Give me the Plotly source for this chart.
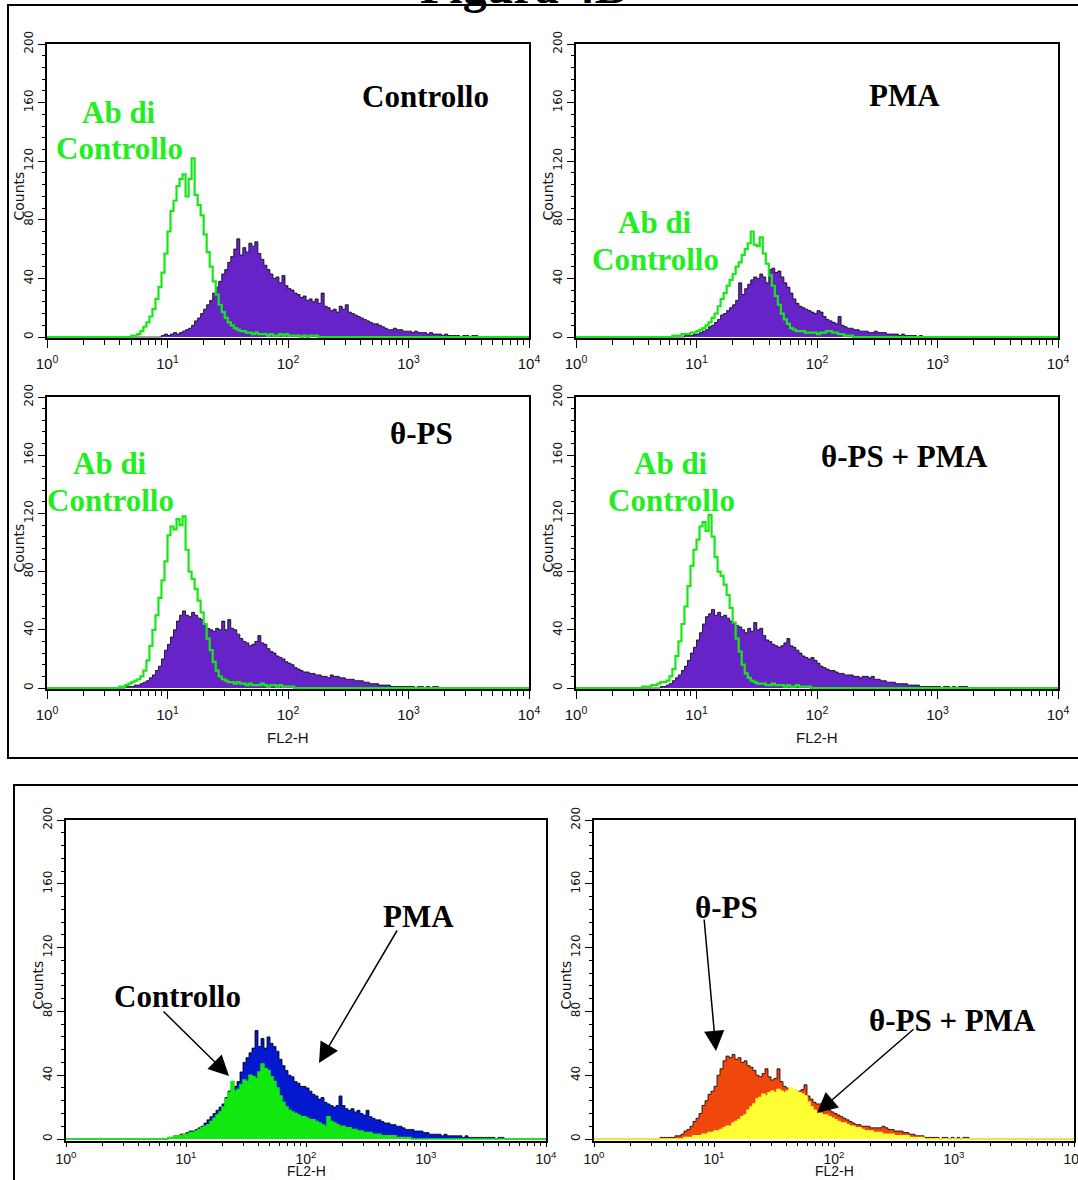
import numpy as np
import plotly.graph_objects as go

W, H = 1078, 1180

# ---------------- data ----------------
# FL2-H channels: log10 spacing of 0.025 decade from 10^0 to 10^4
LOG_STEP = 0.025
N_CHANNELS = 161
X_TICK_VALUES = [1, 10, 100, 1000, 10000]
X_TICK_LABELS = ["10<sup>0</sup>", "10<sup>1</sup>", "10<sup>2</sup>", "10<sup>3</sup>", "10<sup>4</sup>"]
Y_TICK_VALUES = [0, 40, 80, 120, 160, 200]
X_TITLE = "FL2-H"
Y_TITLE = "Counts"

# each histogram = first non-empty channel (log10 FL2-H) + counts per channel
controllo_start = 0.95
controllo_counts = [1, 2, 1, 2, 3, 2, 3, 4, 5, 6, 8, 11, 13, 16, 19, 22, 25, 30, 34, 38, 43, 46, 51, 55, 60, 67,
                    56, 61, 58, 64, 62, 65, 57, 53, 49, 46, 43, 40, 41, 37, 42, 35, 33, 32, 30, 29, 27, 28, 25,
                    26, 24, 26, 23, 30, 21, 20, 18, 19, 17, 21, 19, 22, 17, 16, 15, 14, 13, 12, 11, 10, 9, 9, 8,
                    7, 6, 5, 5, 6, 5, 5, 4, 4, 4, 3, 4, 3, 3, 3, 2, 3, 2, 2, 2, 1, 2, 1, 1, 1, 1, 0, 1, 1, 0, 1, 1]
ab_controllo_start = 0.70
ab_controllo_counts = [1, 1, 2, 4, 7, 10, 14, 19, 26, 34, 44, 57, 72, 86, 93, 103, 108, 111, 96, 108, 122, 97, 90,
                       83, 70, 58, 48, 38, 29, 22, 17, 13, 10, 8, 6, 5, 4, 4, 3, 3, 2, 3, 2, 2, 2, 1, 2, 1, 1, 2,
                       1, 2, 1, 1, 1, 1, 0, 1, 0, 1, 1, 1]

pma_start = 0.90
pma_counts = [1, 1, 1, 2, 2, 3, 4, 5, 7, 8, 10, 12, 15, 16, 18, 20, 22, 25, 37, 29, 33, 36, 39, 41, 40, 43, 41, 37,
              46, 47, 44, 45, 41, 37, 34, 30, 26, 23, 21, 20, 19, 18, 17, 16, 18, 17, 14, 12, 11, 10, 9, 14, 8, 7,
              6, 6, 5, 5, 4, 4, 4, 3, 3, 4, 3, 3, 3, 2, 2, 2, 2, 1, 2, 1, 1, 1, 1, 0, 1]
ab_pma_start = 0.80
ab_pma_counts = [1, 1, 1, 2, 2, 2, 3, 3, 4, 5, 6, 8, 10, 13, 16, 21, 26, 30, 35, 39, 43, 48, 51, 56, 60, 64, 72, 63,
                 62, 68, 57, 50, 42, 35, 28, 22, 16, 12, 9, 6, 5, 4, 4, 4, 3, 3, 3, 3, 2, 3, 3, 4, 4, 3, 3, 2, 2,
                 1, 1, 1]

tps_start = 0.65
tps_counts = [1, 1, 1, 2, 2, 3, 4, 5, 7, 9, 12, 15, 20, 26, 30, 35, 40, 46, 50, 53, 50, 49, 52, 50, 48, 47, 44, 41,
              40, 39, 41, 40, 46, 40, 47, 41, 40, 37, 34, 32, 31, 29, 30, 32, 36, 31, 30, 27, 25, 24, 22, 21, 20,
              18, 17, 16, 14, 13, 12, 11, 11, 10, 10, 9, 9, 8, 8, 7, 9, 8, 8, 7, 7, 6, 6, 6, 5, 5, 5, 4, 4, 3, 3,
              3, 2, 2, 2, 2, 1, 1, 1, 1, 1, 1, 1, 1, 0, 1, 1, 0, 1, 0, 1, 1]
ab_tps_start = 0.60
ab_tps_counts = [1, 1, 2, 3, 4, 5, 6, 8, 12, 19, 29, 40, 50, 62, 74, 87, 105, 111, 109, 116, 112, 118, 95, 80, 75,
                 68, 60, 52, 44, 34, 26, 18, 12, 8, 6, 5, 4, 4, 3, 4, 3, 3, 2, 3, 2, 2, 2, 3, 2, 1, 2, 2, 1, 2, 1,
                 1, 1, 1]

tps_pma_start = 0.70
tps_pma_counts = [1, 1, 2, 3, 5, 7, 9, 12, 15, 19, 24, 28, 33, 38, 44, 49, 51, 54, 50, 52, 49, 50, 48, 46, 45, 43,
                  42, 40, 38, 41, 39, 45, 40, 41, 36, 33, 32, 30, 29, 28, 29, 31, 34, 29, 28, 26, 24, 22, 21, 20,
                  21, 19, 17, 15, 14, 13, 12, 12, 11, 10, 10, 9, 9, 9, 8, 8, 7, 8, 8, 7, 8, 6, 6, 5, 5, 4, 4, 4, 3,
                  3, 3, 3, 2, 2, 2, 2, 1, 1, 1, 1, 1, 1, 1, 0, 1, 1, 0, 1, 0, 1, 1, 1]
ab_tps_pma_start = 0.55
ab_tps_pma_counts = [1, 1, 1, 2, 2, 3, 4, 4, 5, 8, 13, 22, 32, 44, 56, 70, 84, 95, 102, 111, 114, 108, 119, 104,
                     90, 80, 77, 71, 64, 55, 45, 34, 25, 16, 10, 7, 5, 4, 3, 3, 3, 2, 2, 3, 2, 2, 2, 1, 2, 1, 1, 2,
                     1, 1, 1, 1]

# overlay panels (bottom)
ov_pma_start = 0.85
ov_pma_counts = [1, 1, 2, 2, 3, 3, 4, 5, 5, 6, 7, 8, 10, 12, 14, 16, 18, 20, 22, 26, 30, 31, 33, 36, 42, 48, 51, 54,
                 57, 68, 58, 63, 57, 64, 60, 58, 55, 50, 46, 43, 40, 39, 36, 35, 33, 33, 32, 30, 28, 27, 25, 26, 23,
                 22, 21, 20, 21, 27, 21, 19, 18, 19, 17, 18, 16, 15, 18, 14, 13, 12, 12, 11, 10, 10, 9, 9, 8, 8, 7,
                 6, 6, 6, 5, 5, 5, 4, 4, 3, 3, 3, 3, 2, 3, 2, 2, 2, 2, 2, 1, 2, 1, 1, 1, 1, 1, 1, 1, 1, 1, 0, 1, 1]
ov_controllo_start = 0.85
ov_controllo_counts = [1, 1, 2, 2, 2, 3, 3, 4, 4, 5, 6, 7, 8, 9, 11, 13, 15, 17, 20, 25, 29, 36, 30, 31, 34, 37, 36,
                       40, 39, 38, 42, 47, 44, 43, 39, 36, 32, 27, 23, 20, 18, 17, 16, 15, 14, 14, 13, 12, 12, 11,
                       10, 9, 8, 14, 11, 10, 9, 8, 8, 7, 7, 6, 6, 5, 5, 4, 4, 4, 3, 3, 3, 2, 2, 2, 2, 2, 1, 1, 1,
                       1, 1]
ov_tps_start = 0.55
ov_tps_counts = [1, 1, 1, 1, 1, 2, 2, 3, 5, 6, 8, 11, 13, 16, 21, 24, 28, 30, 33, 40, 44, 49, 52, 51, 53, 50, 51, 48,
                 49, 46, 45, 43, 40, 39, 41, 44, 39, 37, 38, 44, 36, 33, 32, 31, 31, 30, 30, 31, 34, 27, 25, 23, 22,
                 22, 21, 19, 18, 17, 16, 15, 14, 13, 12, 11, 10, 9, 9, 8, 8, 8, 7, 7, 7, 7, 8, 7, 6, 6, 5, 5, 5, 4,
                 4, 3, 3, 2, 2, 2, 1, 1, 1, 1, 1, 0, 1, 1, 0, 1, 0, 1, 0, 1, 1]
ov_tps_pma_start = 0.75
ov_tps_pma_counts = [1, 1, 1, 2, 2, 2, 3, 3, 4, 4, 5, 5, 6, 7, 8, 8, 10, 11, 12, 14, 15, 18, 20, 22, 25, 26, 28, 27,
                     29, 30, 29, 31, 30, 29, 30, 32, 31, 30, 29, 28, 27, 23, 20, 18, 17, 16, 15, 15, 14, 13, 12, 11,
                     10, 10, 9, 8, 8, 7, 7, 6, 5, 5, 5, 4, 4, 4, 3, 3, 3, 3, 2, 2, 2, 2, 2, 1, 1, 1, 1, 1]

# ---------------- helpers ----------------
log_grid = np.arange(N_CHANNELS) * LOG_STEP
x_channels = 10 ** log_grid


def full_hist(start, counts):
    arr = np.zeros(N_CHANNELS)
    i0 = int(round(start / LOG_STEP))
    n = min(len(counts), N_CHANNELS - i0)
    arr[i0:i0 + n] = counts[:n]
    return arr


def px(x):
    return x / W


def py(y):
    return 1 - y / H


PURPLE = "#6624c8"
GREEN_LINE = "#16e816"
GREEN_TEXT = "#22ee22"
GREEN_FILL = "#10e810"
BLUE = "#0418d0"
ORANGE = "#f0480c"
YELLOW = "#ffff33"

TICK_FONT_Y = dict(family="DejaVu Sans", size=12, color="#111")
TICK_FONT_X = dict(family="Liberation Sans Narrow, Liberation Sans, Arial", size=15, color="#111")
TICK_FONT_X_SMALL = dict(family="Liberation Sans Narrow, Liberation Sans, Arial", size=14, color="#111")
COUNTS_FONT = dict(family="DejaVu Sans", size=14, color="#111")
LABEL_FONT = "Liberation Serif, Times New Roman, serif"

# panel pixel boxes: x of 10^0, x of 10^4, y of count 200, y of count 0, x-title centre y
panels = [
    dict(x0=47, x1=529, ytop=44, ybot=337, title_y=None, std=3, tl=8, font=TICK_FONT_X),
    dict(x0=576, x1=1058, ytop=44, ybot=337, title_y=None, std=3, tl=8, font=TICK_FONT_X),
    dict(x0=47, x1=529, ytop=397, ybot=688, title_y=737, std=3, tl=8, font=TICK_FONT_X),
    dict(x0=576, x1=1058, ytop=397, ybot=688, title_y=737, std=3, tl=8, font=TICK_FONT_X),
    dict(x0=66, x1=546, ytop=820, ybot=1139, title_y=1171, std=0, tl=5, font=TICK_FONT_X_SMALL),
    dict(x0=594, x1=1074, ytop=820, ybot=1139, title_y=1171, std=0, tl=5, font=TICK_FONT_X_SMALL),
]

fig = go.Figure()

minor_x = [k * 10 ** d for d in range(4) for k in range(2, 10)]
layout_axes = {}
annotations = []
for i, p in enumerate(panels, start=1):
    ybot_ext = p["ybot"] + (p["ybot"] - p["ytop"]) / 200.0
    xa = dict(
        domain=[px(p["x0"]), px(p["x1"])], anchor=f"y{i}", type="log", range=[0, 4],
        tickmode="array", tickvals=X_TICK_VALUES, ticktext=X_TICK_LABELS,
        ticks="outside", ticklen=p["tl"], tickwidth=1, tickcolor="black",
        minor=dict(tickmode="array", tickvals=minor_x, ticks="outside", ticklen=min(5, p["tl"] - 1),
                   tickwidth=1, tickcolor="black", showgrid=False),
        showline=True, linecolor="black", linewidth=1.5, mirror=True,
        showgrid=False, zeroline=False, tickfont=p["font"], ticklabelstandoff=p["std"],
        ticklabeloverflow="allow", automargin=False, fixedrange=True,
    )
    ya = dict(
        domain=[py(ybot_ext), py(p["ytop"])], anchor=f"x{i}", range=[-1, 200],
        tickmode="array", tickvals=Y_TICK_VALUES, tickangle=-90,
        ticks="outside", ticklen=7, tickwidth=1, tickcolor="black",
        minor=dict(tick0=0, dtick=8, ticks="outside", ticklen=3, tickwidth=1,
                   tickcolor="black", showgrid=False),
        showline=True, linecolor="black", linewidth=1.5, mirror=True,
        showgrid=False, zeroline=False, tickfont=TICK_FONT_Y,
        automargin=False, fixedrange=True,
    )
    key = "" if i == 1 else str(i)
    layout_axes[f"xaxis{key}"] = xa
    layout_axes[f"yaxis{key}"] = ya
    # y-axis title "Counts"
    annotations.append(dict(
        text=Y_TITLE, x=px(p["x0"] - 29), y=py((p["ytop"] + p["ybot"]) / 2 + 6),
        xref="paper", yref="paper", xanchor="center", yanchor="middle", showarrow=False,
        textangle=-90, font=COUNTS_FONT))
    if p["title_y"] is not None:
        annotations.append(dict(
            text=X_TITLE, x=px(p["x0"] + (p["x1"] - p["x0"]) / 2), y=py(p["title_y"]),
            xref="paper", yref="paper", xanchor="center", yanchor="middle", showarrow=False,
            font=p["font"]))


def add_filled(i, start, counts, fill, outline, width=0.8):
    fig.add_trace(go.Scatter(
        x=x_channels, y=full_hist(start, counts), mode="lines", line=dict(shape="hv", color=outline, width=width),
        fill="tozeroy", fillcolor=fill, xaxis=f"x{i}", yaxis=f"y{i}", hoverinfo="skip"))


def add_line(i, start, counts, color, width=2.2):
    fig.add_trace(go.Scatter(
        x=x_channels, y=full_hist(start, counts), mode="lines", line=dict(shape="hv", color=color, width=width),
        xaxis=f"x{i}", yaxis=f"y{i}", hoverinfo="skip"))


add_filled(1, controllo_start, controllo_counts, PURPLE, "black")
add_line(1, ab_controllo_start, ab_controllo_counts, GREEN_LINE)
add_filled(2, pma_start, pma_counts, PURPLE, "black")
add_line(2, ab_pma_start, ab_pma_counts, GREEN_LINE)
add_filled(3, tps_start, tps_counts, PURPLE, "black")
add_line(3, ab_tps_start, ab_tps_counts, GREEN_LINE)
add_filled(4, tps_pma_start, tps_pma_counts, PURPLE, "black")
add_line(4, ab_tps_pma_start, ab_tps_pma_counts, GREEN_LINE)
add_filled(5, ov_pma_start, ov_pma_counts, BLUE, "black")
add_filled(5, ov_controllo_start, ov_controllo_counts, GREEN_FILL, GREEN_FILL, width=1.5)
add_filled(6, ov_tps_start, ov_tps_counts, ORANGE, "black")
add_filled(6, ov_tps_pma_start, ov_tps_pma_counts, YELLOW, YELLOW, width=1.5)

# ---------------- annotations ----------------
labels = [
    ("Controllo", 425, 97, "black"), ("Ab di", 119, 112, GREEN_TEXT), ("Controllo", 119, 148, GREEN_TEXT),
    ("PMA", 904, 95, "black"), ("Ab di", 655, 223, GREEN_TEXT), ("Controllo", 655, 260, GREEN_TEXT),
    ("θ-PS", 421, 433, "black"), ("Ab di", 110, 463, GREEN_TEXT), ("Controllo", 110, 500, GREEN_TEXT),
    ("θ-PS + PMA", 904, 457, "black"), ("Ab di", 671, 463, GREEN_TEXT), ("Controllo", 671, 500, GREEN_TEXT),
    ("PMA", 418, 916, "black"), ("Controllo", 177, 997, "black"),
    ("θ-PS", 726, 907, "black"), ("θ-PS + PMA", 952, 1020, "black"),
]
for text, cx, cy, col in labels:
    annotations.append(dict(
        text=f"<b>{text}</b>", x=px(cx), y=py(cy), xref="paper", yref="paper",
        xanchor="center", yanchor="middle", showarrow=False,
        font=dict(family=LABEL_FONT, size=31, color=col)))

# arrows: (tip x, tip y, tail x, tail y)
arrows = [(319, 1063, 398, 929), (229, 1076, 162, 1010), (716, 1051, 704, 918), (817, 1113, 915, 1028)]
for tx, ty, sx, sy in arrows:
    annotations.append(dict(
        text="", x=px(tx), y=py(ty), xref="paper", yref="paper",
        ax=sx - tx, ay=sy - ty, axref="pixel", ayref="pixel", showarrow=True,
        arrowhead=2, arrowsize=2.7, arrowwidth=1.5, arrowcolor="black", standoff=0))

# partially visible figure title
annotations.append(dict(
    text="<b>Figura 4B</b>", x=px(523), y=py(-14), xref="paper", yref="paper",
    xanchor="center", yanchor="middle", showarrow=False,
    font=dict(family=LABEL_FONT, size=48, color="black")))

shapes = [
    dict(type="rect", xref="paper", yref="paper", x0=px(8), x1=px(1095), y0=py(5), y1=py(758),
         line=dict(color="black", width=2), fillcolor="rgba(0,0,0,0)", layer="below"),
    dict(type="rect", xref="paper", yref="paper", x0=px(14), x1=px(1095), y0=py(785), y1=py(1200),
         line=dict(color="black", width=2), fillcolor="rgba(0,0,0,0)", layer="below"),
]

fig.update_layout(
    width=W, height=H, margin=dict(l=0, r=0, t=0, b=0, pad=0, autoexpand=False),
    paper_bgcolor="white", plot_bgcolor="white", showlegend=False,
    annotations=annotations, shapes=shapes, **layout_axes,
)

fig.write_html("out.html", config={"displayModeBar": False})
